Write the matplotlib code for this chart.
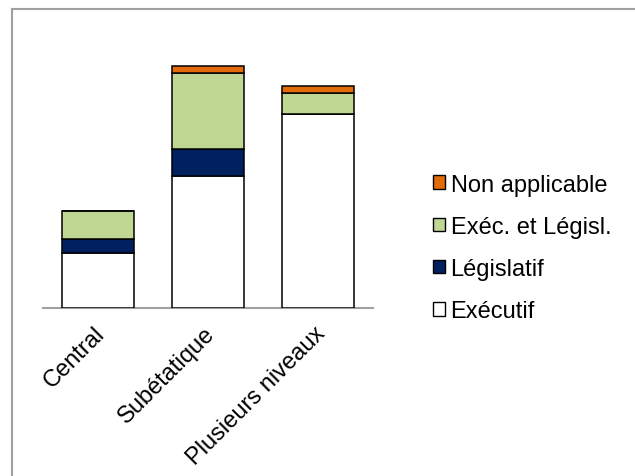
import matplotlib.pyplot as plt
import matplotlib.transforms as mtransforms
import numpy as np
from matplotlib.patches import Patch
from matplotlib.lines import Line2D

plt.rcParams['font.family'] = ['Liberation Sans', 'DejaVu Sans']

categories = ['Central', 'Subétatique', 'Plusieurs niveaux']
executif = [8, 19, 28]
legislatif = [2, 4, 0]
exec_legisl = [4, 11, 3]
non_applicable = [0, 1, 1]

series = [
    ('Exécutif', executif, 'white'),
    ('Législatif', legislatif, '#002060'),
    ('Exéc. et Législ.', exec_legisl, '#bfd793'),
    ('Non applicable', non_applicable, '#e36c09'),
]

fig = plt.figure(figsize=(6.35, 4.77), dpi=100)
ax = fig.add_axes([0.0677, 0.352, 0.520, 0.581])

x = np.arange(len(categories))
bottom = np.zeros(len(categories))
handles = []
for label, vals, color in series:
    vals = np.array(vals, dtype=float)
    ax.bar(x, vals, bottom=bottom, width=0.65, color=color,
           edgecolor='black', linewidth=1.1, zorder=3)
    bottom += vals
    handles.append(Patch(facecolor=color, edgecolor='black', linewidth=1.0, label=label))

ax.set_xlim(-0.5, 2.5)
ax.set_ylim(0, 40)
ax.set_yticks([])
for s in ['top', 'right', 'left']:
    ax.spines[s].set_visible(False)
ax.spines['bottom'].set_color('#a0a0a0')
ax.spines['bottom'].set_linewidth(1.5)
ax.set_xticks(x)
ax.set_xticklabels(categories, rotation=45, ha='right', va='top',
                   rotation_mode='anchor', fontsize=17)
ax.tick_params(axis='x', length=0, pad=10)
shift = mtransforms.ScaledTranslation(-4 / 100, 0, fig.dpi_scale_trans)
for lbl in ax.get_xticklabels():
    lbl.set_transform(lbl.get_transform() + shift)

fig.legend(handles[::-1], [h.get_label() for h in handles[::-1]],
           loc='center left', bbox_to_anchor=(0.663, 0.478), frameon=False,
           fontsize=17, handlelength=0.5, handleheight=0.5,
           handletextpad=0.25, labelspacing=0.86, borderpad=0)

# outer chart frame (top and left edges)
fig.add_artist(Line2D([12 / 635, 1.0], [1 - 10 / 477, 1 - 10 / 477],
                      transform=fig.transFigure, color='#a0a0a0', linewidth=1.5))
fig.add_artist(Line2D([12 / 635, 12 / 635], [0.0, 1 - 10 / 477],
                      transform=fig.transFigure, color='#a0a0a0', linewidth=1.5))

fig.savefig('out.png', dpi=100)
